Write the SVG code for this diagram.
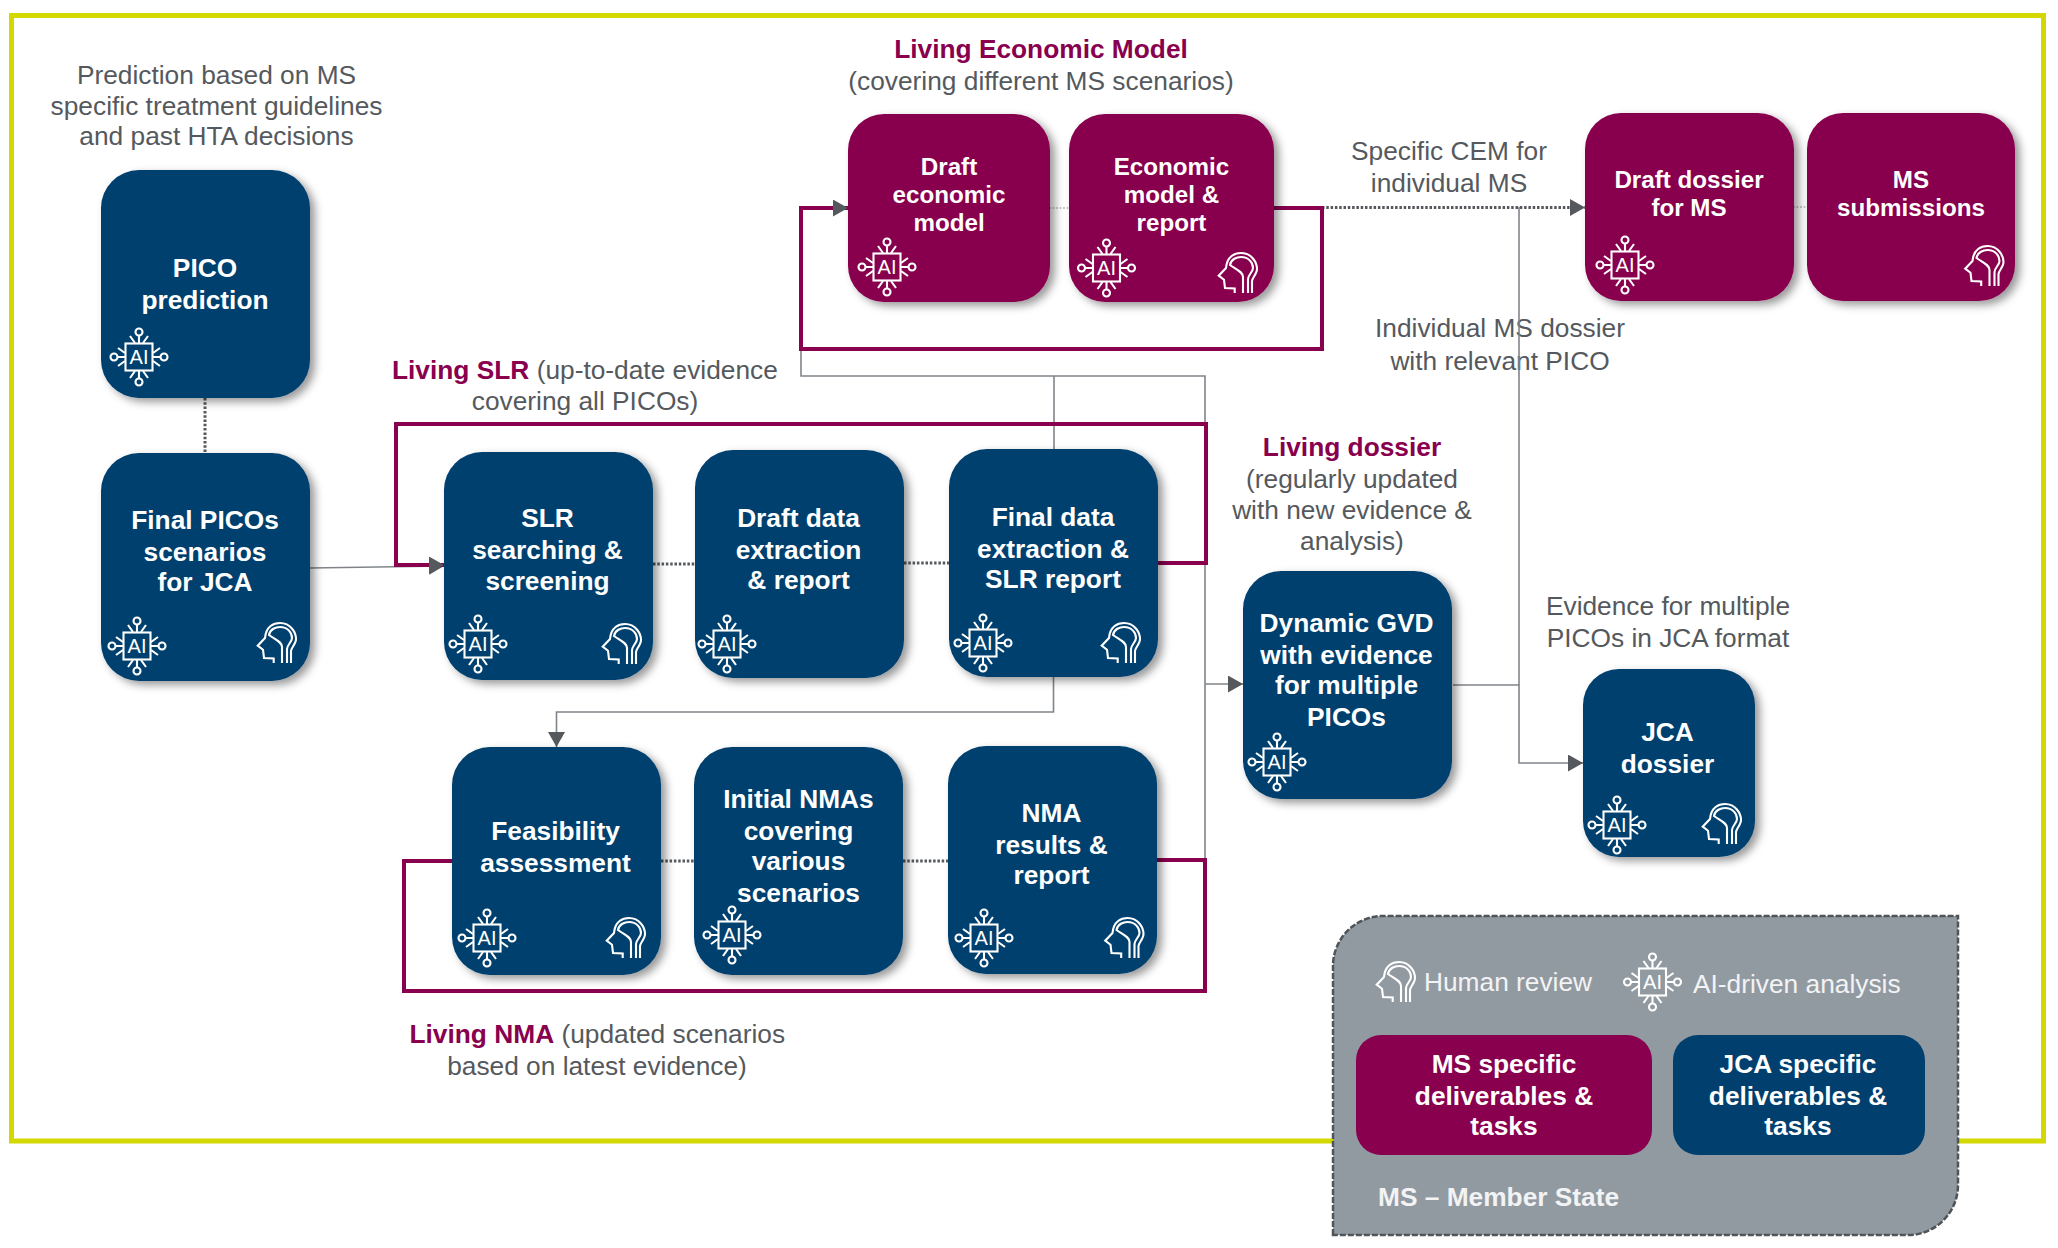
<svg xmlns="http://www.w3.org/2000/svg" xmlns:xlink="http://www.w3.org/1999/xlink" width="2058" height="1248" viewBox="0 0 2058 1248">
<style>
text{font-family:"Liberation Sans",Arial,sans-serif}
.n{fill:#003f6e;filter:url(#sh)}
.m{fill:#88004e;filter:url(#sh)}
.t{fill:#fff;font-weight:700;font-size:26.300px;text-anchor:middle}
.s{font-size:24.200px}
.g{fill:#55595d;font-size:26.300px;text-anchor:middle}
.h{fill:#88004e;font-weight:700}
.l{fill:#f2f3f4;font-size:26.300px}
.c{fill:none;stroke:#808489;stroke-width:1.6}
.d{fill:none;stroke:#55595d;stroke-width:3;stroke-dasharray:2.500 1.800}
.f{fill:none;stroke:#9a9a9a;stroke-width:1.2;stroke-dasharray:2 1.500}
.p{fill:none;stroke:#88004e;stroke-width:4;stroke-linejoin:miter}
.i{fill:none;stroke:#fff;stroke-width:2.100}
.ai{fill:#fff;font-size:20px;text-anchor:middle}
</style>
<defs>
<filter id="sh" x="-10%" y="-10%" width="125%" height="125%"><feDropShadow dx="5" dy="4" stdDeviation="4" flood-color="#000" flood-opacity="0.4"/></filter>
<marker id="a" markerUnits="userSpaceOnUse" markerWidth="16" markerHeight="18" refX="15" refY="8.500" orient="auto"><path d="M0 0L15 8.500L0 17Z" fill="#55595d"/></marker>
<g id="prong"><path d="M0-14V-21.500M-4-14L-9-21M4-14L9-21"/><circle cy="-25" r="3.500"/></g>
<g id="chip" class="i">
<rect x="-13.500" y="-13.500" width="27" height="27"/>
<use href="#prong"/><use href="#prong" transform="rotate(90)"/><use href="#prong" transform="rotate(180)"/><use href="#prong" transform="rotate(270)"/>
<text class="ai" y="7" stroke="none">AI</text>
</g>
<g id="head" class="i">
<path d="M-3.300 20V15.500L-13 15L-14 6.700L-19.300 2.700L-12-5C-11-17-3-20 3-20C14-20 19-10 19-4C19 1 14 5 14 8V20"/>
<path d="M5 20V4C5-1-1-3-8-8C-7-14-1-16 3-16C11-16 15-10 15-5C15-1 10 2 10 6V20"/>
</g>
</defs>
<rect id="frame" x="11.500" y="15.500" width="2032" height="1125.500" fill="none" stroke="#d2d800" stroke-width="5"/>

<g id="labels">
<text class="g" x="216.500" y="84">Prediction based on MS</text>
<text class="g" x="216.500" y="115">specific treatment guidelines</text>
<text class="g" x="216.500" y="145">and past HTA decisions</text>
<text class="g h" x="1041" y="58">Living Economic Model</text>
<text class="g" x="1041" y="90">(covering different MS scenarios)</text>
<text class="g" x="1449" y="160">Specific CEM for</text>
<text class="g" x="1449" y="192">individual MS</text>
<text class="g" x="1500" y="337">Individual MS dossier</text>
<text class="g" x="1500" y="370">with relevant PICO</text>
<text class="g" x="392" y="379" style="text-anchor:start"><tspan class="h">Living SLR</tspan> (up-to-date evidence</text>
<text class="g" x="585" y="410">covering all PICOs)</text>
<text class="g h" x="1352" y="456">Living dossier</text>
<text class="g" x="1352" y="488">(regularly updated</text>
<text class="g" x="1352" y="519">with new evidence &amp;</text>
<text class="g" x="1352" y="550">analysis)</text>
<text class="g" x="1668" y="615">Evidence for multiple</text>
<text class="g" x="1668" y="647">PICOs in JCA format</text>
<text class="g" x="409.500" y="1043" style="text-anchor:start"><tspan class="h">Living NMA</tspan> (updated scenarios</text>
<text class="g" x="597" y="1075">based on latest evidence)</text>
</g>

<g id="connectors">
<path class="c" d="M801 349V376H1205V861"/>
<path class="c" d="M1054 376V449"/>
<path class="c" d="M310 568L444 566" marker-end="url(#a)"/>
<path class="c" d="M1205 684H1243" marker-end="url(#a)"/>
<path class="c" d="M1453 685H1519V763H1583" marker-end="url(#a)"/>
<path class="c" d="M1519 685V207"/>
<path class="c" d="M1053.500 677V712H556.500V747" marker-end="url(#a)"/>
<path class="d" d="M205 398V453"/>
<path class="d" d="M653 564H695"/>
<path class="d" d="M904 563H949"/>
<path class="d" d="M661 861H694"/>
<path class="d" d="M903 861H948"/>
<path class="d" d="M1322 207.500H1585" marker-end="url(#a)"/>
<path class="f" d="M1049 208H1069"/>
<path class="f" d="M1793 207H1807"/>
<path class="p" d="M1274 208H1322V349H801V208H848" marker-end="url(#a)"/>
<path class="p" d="M1158 563H1206V424H396V565H444" marker-end="url(#a)"/>
<path class="p" d="M452 861H404V991H1205V860H1157"/>
</g>

<g id="pico-prediction"><rect class="n" x="101" y="170" width="209" height="228" rx="38"/><text class="t" x="205" y="277">PICO</text><text class="t" x="205" y="309">prediction</text><use href="#chip" x="139" y="357"/></g>
<g id="final-picos"><rect class="n" x="101" y="453" width="209" height="228" rx="38"/><text class="t" x="205" y="529">Final PICOs</text><text class="t" x="205" y="561">scenarios</text><text class="t" x="205" y="591">for JCA</text><use href="#chip" x="137" y="646"/><use href="#head" x="277" y="643"/></g>
<g id="slr-search"><rect class="n" x="444" y="452" width="209" height="228" rx="38"/><text class="t" x="547.500" y="527">SLR</text><text class="t" x="547.500" y="559">searching &amp;</text><text class="t" x="547.500" y="590">screening</text><use href="#chip" x="478" y="644"/><use href="#head" x="622" y="644"/></g>
<g id="draft-data"><rect class="n" x="695" y="450" width="209" height="228" rx="38"/><text class="t" x="798.500" y="527">Draft data</text><text class="t" x="798.500" y="559">extraction</text><text class="t" x="798.500" y="589">&amp; report</text><use href="#chip" x="727" y="644"/></g>
<g id="final-data"><rect class="n" x="949" y="449" width="209" height="228" rx="38"/><text class="t" x="1053" y="526">Final data</text><text class="t" x="1053" y="558">extraction &amp;</text><text class="t" x="1053" y="588">SLR report</text><use href="#chip" x="983" y="643"/><use href="#head" x="1121" y="643"/></g>
<g id="feasibility"><rect class="n" x="452" y="747" width="209" height="228" rx="38"/><text class="t" x="555.500" y="840">Feasibility</text><text class="t" x="555.500" y="872">assessment</text><use href="#chip" x="487" y="938"/><use href="#head" x="626" y="938"/></g>
<g id="initial-nmas"><rect class="n" x="694" y="747" width="209" height="228" rx="38"/><text class="t" x="798.500" y="808">Initial NMAs</text><text class="t" x="798.500" y="840">covering</text><text class="t" x="798.500" y="870">various</text><text class="t" x="798.500" y="902">scenarios</text><use href="#chip" x="732" y="935"/></g>
<g id="nma-results"><rect class="n" x="948" y="746" width="209" height="228" rx="38"/><text class="t" x="1051.500" y="822">NMA</text><text class="t" x="1051.500" y="854">results &amp;</text><text class="t" x="1051.500" y="884">report</text><use href="#chip" x="984" y="938"/><use href="#head" x="1124.500" y="938"/></g>
<g id="dynamic-gvd"><rect class="n" x="1243" y="571" width="209" height="228" rx="38"/><text class="t" x="1346.500" y="632">Dynamic GVD</text><text class="t" x="1346.500" y="664">with evidence</text><text class="t" x="1346.500" y="694">for multiple</text><text class="t" x="1346.500" y="726">PICOs</text><use href="#chip" x="1277" y="762"/></g>
<g id="jca-dossier"><rect class="n" x="1583" y="669" width="172" height="188" rx="36"/><text class="t" x="1667.500" y="741">JCA</text><text class="t" x="1667.500" y="773">dossier</text><use href="#chip" x="1617" y="825"/><use href="#head" x="1722" y="824"/></g>
<g id="draft-economic"><rect class="m" x="848" y="114" width="202" height="188" rx="36"/><text class="t s" x="949" y="175">Draft</text><text class="t s" x="949" y="203">economic</text><text class="t s" x="949" y="231">model</text><use href="#chip" x="887" y="267"/></g>
<g id="economic-model"><rect class="m" x="1069" y="114" width="205" height="188" rx="36"/><text class="t s" x="1171.500" y="175">Economic</text><text class="t s" x="1171.500" y="203">model &amp;</text><text class="t s" x="1171.500" y="231">report</text><use href="#chip" x="1106.500" y="268"/><use href="#head" x="1238" y="273"/></g>
<g id="draft-dossier"><rect class="m" x="1585" y="113" width="209" height="188" rx="36"/><text class="t s" x="1689" y="188">Draft dossier</text><text class="t s" x="1689" y="216">for MS</text><use href="#chip" x="1625" y="265"/></g>
<g id="ms-submissions"><rect class="m" x="1807" y="113" width="208" height="188" rx="36"/><text class="t s" x="1911" y="188">MS</text><text class="t s" x="1911" y="216">submissions</text><use href="#head" x="1984.500" y="266"/></g>

<g id="legend">
<path d="M1333 1235V966A50 50 0 0 1 1383 916H1958V1185A50 50 0 0 1 1908 1235Z" fill="#929aa1" stroke="#4f5459" stroke-width="2.500" stroke-dasharray="6 2"/>
<use href="#head" x="1396" y="982"/><text class="l" x="1424" y="991">Human review</text>
<use href="#chip" x="1652.500" y="982"/><text class="l" x="1693" y="993">AI-driven analysis</text>
<rect x="1356" y="1035" width="296" height="120" rx="25" fill="#88004e"/><text class="t" x="1504" y="1073">MS specific</text><text class="t" x="1504" y="1105">deliverables &amp;</text><text class="t" x="1504" y="1135">tasks</text>
<rect x="1673" y="1035" width="252" height="120" rx="25" fill="#003f6e"/><text class="t" x="1798" y="1073">JCA specific</text><text class="t" x="1798" y="1105">deliverables &amp;</text><text class="t" x="1798" y="1135">tasks</text>
<text x="1378" y="1206" fill="#f2f3f4" font-weight="700" font-size="26.300">MS – Member State</text>
</g>
</svg>
